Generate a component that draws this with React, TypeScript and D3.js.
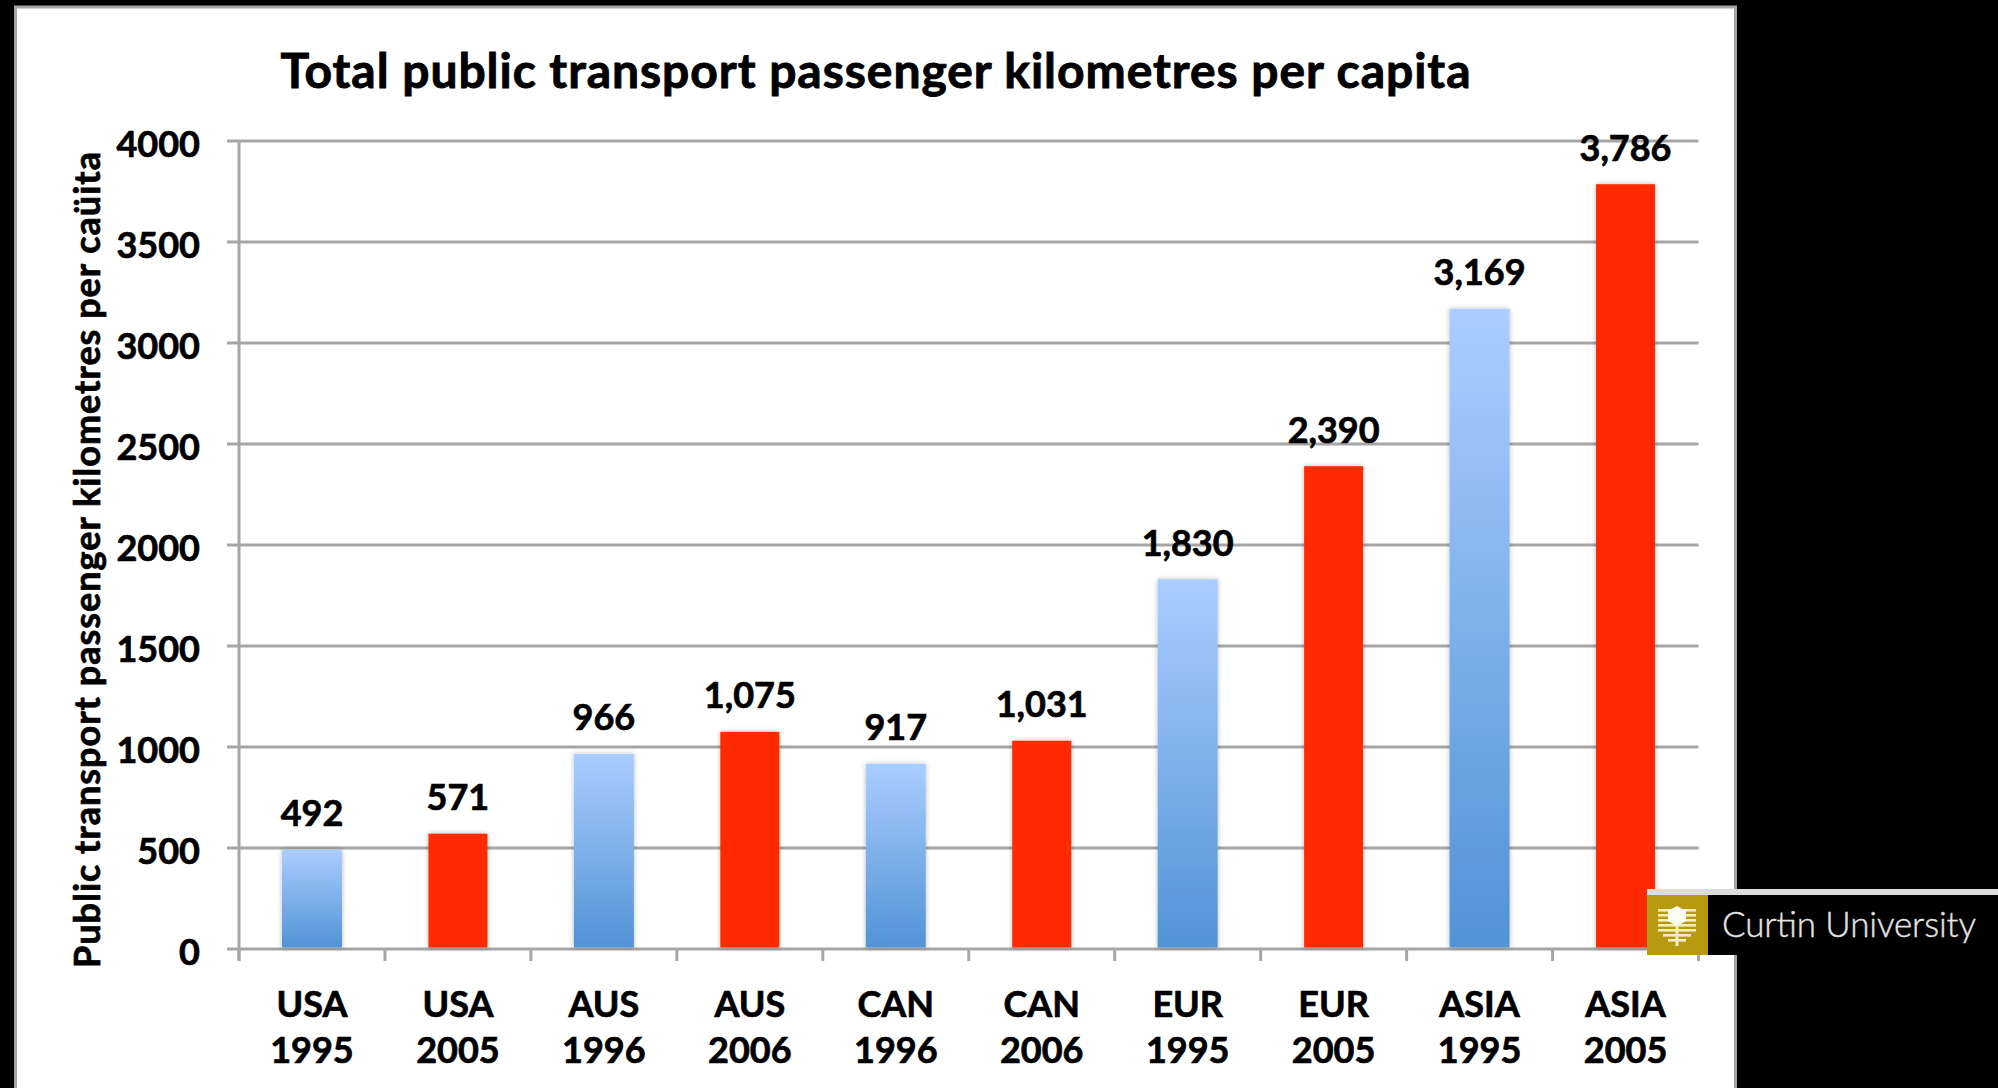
import React from "react";
import * as d3 from "d3";

const regions = ["USA", "USA", "AUS", "AUS", "CAN", "CAN", "EUR", "EUR", "ASIA", "ASIA"];
const years = ["1995", "2005", "1996", "2006", "1996", "2006", "1995", "2005", "1995", "2005"];
const values = [492, 571, 966, 1075, 917, 1031, 1830, 2390, 3169, 3786];
const yTicks = [0, 500, 1000, 1500, 2000, 2500, 3000, 3500, 4000];
const titleText = "Total public transport passenger kilometres per capita";
const yTitleText = "Public transport passenger kilometres per caüita";
const logoText = "Curtin University";

const FONT = "Lato, 'Open Sans', sans-serif";
const GRID = "#a6a6a6";
const LABEL = 36;

const shieldStripes = [909, 914, 919, 924, 929, 934, 939];

export default function App() {
  const keys = values.map((_, i) => i);
  const x = d3.scaleBand<number>().domain(keys).range([239, 1698.5]).paddingInner(0).paddingOuter(0);
  const y = d3.scaleLinear().domain([0, 4000]).range([949, 141]);
  const band = x.bandwidth();
  const barW = 60;
  const fmt = d3.format(",");
  const tickXs = [...keys.map((k) => x(k) as number), 1698.5];
  const boldText = { fontWeight: 700, fill: "#000", stroke: "#000", strokeWidth: 0.7 };

  return (
    <svg
      width={1998}
      height={1088}
      viewBox="0 0 1998 1088"
      style={{ position: "absolute", left: 0, top: 0, display: "block", background: "#000" }}
      fontFamily={FONT}
    >
      <defs>
        <linearGradient id="blueBar" x1="0" y1="0" x2="0" y2="1">
          <stop offset="0" stopColor="#abcdff" />
          <stop offset="1" stopColor="#5193d6" />
        </linearGradient>
        <filter id="barShadow" x="-20%" y="-5%" width="140%" height="110%">
          <feDropShadow dx="0" dy="0" stdDeviation="2.5" floodColor="#000" floodOpacity="0.28" />
        </filter>
      </defs>

      <rect x={15.5} y={7} width={1720} height={1090} fill="#fff" stroke="#a6a6a6" strokeWidth={3} />

      <text x={875.5} y={88} textAnchor="middle" fontSize={48} {...boldText} strokeWidth={0.9} textLength={1190}>
        {titleText}
      </text>

      <text
        transform="translate(100,560) rotate(-90)"
        textAnchor="middle"
        fontSize={36}
        {...boldText}
        textLength={816}
      >
        {yTitleText}
      </text>

      {yTicks.map((t) => (
        <g key={t}>
          <line x1={227} x2={1698.5} y1={y(t)} y2={y(t)} stroke={GRID} strokeWidth={3} />
          <text x={200} y={y(t) + 16} textAnchor="end" fontSize={LABEL} {...boldText}>
            {t}
          </text>
        </g>
      ))}

      <line x1={239} x2={239} y1={y(4000)} y2={961} stroke={GRID} strokeWidth={3} />
      {tickXs.map((tx, i) => (
        <line key={i} x1={tx} x2={tx} y1={949} y2={961} stroke={GRID} strokeWidth={3} />
      ))}

      {keys.map((k) => {
        const cx = (x(k) as number) + band / 2;
        const isBlue = k % 2 === 0;
        const w = isBlue ? barW : barW - 1;
        return (
          <g key={k}>
            <rect
              x={cx - w / 2}
              y={y(values[k])}
              width={w}
              height={947.5 - y(values[k])}
              fill={isBlue ? "url(#blueBar)" : "#ff2a00"}
              filter="url(#barShadow)"
            />
            <text x={cx} y={y(values[k]) - 23.5} textAnchor="middle" fontSize={LABEL} {...boldText}>
              {fmt(values[k])}
            </text>
            <text x={cx} y={1016.5} textAnchor="middle" fontSize={LABEL} {...boldText}>
              {regions[k]}
            </text>
            <text x={cx} y={1062.5} textAnchor="middle" fontSize={LABEL} {...boldText}>
              {years[k]}
            </text>
          </g>
        );
      })}

      <rect x={1647} y={889} width={351} height={6} fill="#dcdcdc" />
      <rect x={1708} y={895} width={290} height={60} fill="#000" />
      <rect x={1647} y={895} width={61} height={60} fill="#b89a10" />
      {shieldStripes.map((sy, i) => {
        const inset = i > 4 ? (i - 4) * 5 : 0;
        return <rect key={sy} x={1658 + inset} y={sy} width={38 - inset * 2} height={2.6} fill="#f4edc0" />;
      })}
      <rect x={1675.5} y={926} width={3} height={20} fill="#f4edc0" />
      <polygon points="1677,906 1686,911 1686,921 1677,926 1668,921 1668,911" fill="#fdfcf2" />

      <text x={1722} y={937} fontSize={35} fontWeight={300} fill="#e4e4e4" stroke="#e4e4e4" strokeWidth={0.4} textLength={254}>
        {logoText}
      </text>
    </svg>
  );
}
